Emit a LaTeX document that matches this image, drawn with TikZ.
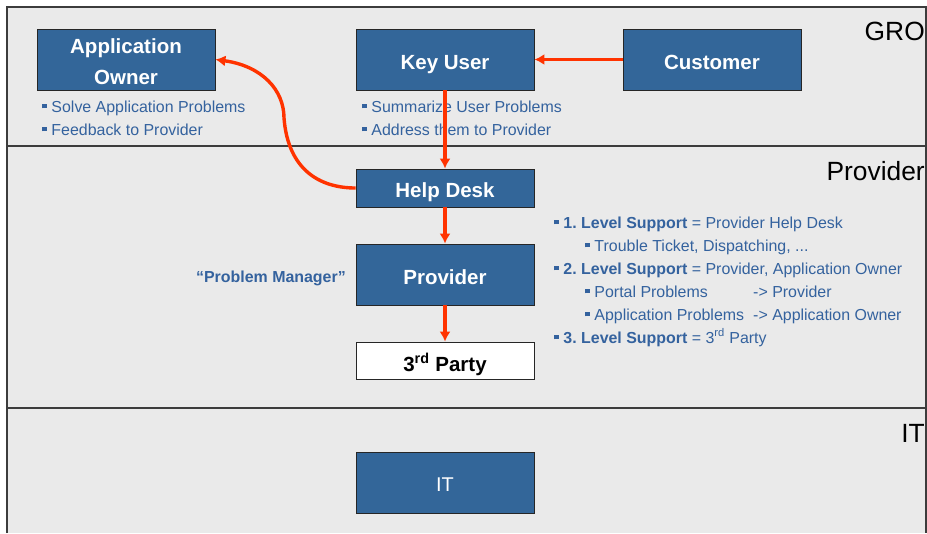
\documentclass[tikz,border=0pt]{standalone}
\usepackage{fontspec}
\setmainfont{Liberation Sans}
\usetikzlibrary{arrows.meta}
\definecolor{boxblue}{RGB}{51,102,153}
\definecolor{txtblue}{RGB}{52,98,158}
\definecolor{flowred}{RGB}{255,51,0}
\definecolor{lanegray}{RGB}{234,234,234}
\definecolor{lanedark}{RGB}{60,60,60}
\newcommand{\sqb}{\rule[0.22em]{0.28em}{0.28em}\hspace{0.3em}}

\begin{document}
\begin{tikzpicture}[x=0.03cm, y=-0.03cm,
	box/.style={draw=black!85, line width=0.8pt, fill=boxblue, text=white, font=\fontsize{17.5}{27}\selectfont\bfseries, minimum width=5.34cm, minimum height=1.83cm, inner sep=0pt, align=center, text height=16.3pt, text depth=0pt},
	flow/.style={draw=flowred, line width=2.9pt, -{Latex[length=8.5pt,width=9.5pt]}},
	note/.style={anchor=base west, inner sep=0pt, text=txtblue, font=\fontsize{13.6}{16}\selectfont},
	lane/.style={anchor=east, inner sep=0pt, font=\fontsize{22.5}{26}\selectfont}]

\useasboundingbox (0,0) rectangle (927,533);

%---------LANES-----------%
\fill[lanegray] (7,7) rectangle (926,533);
\draw[lanedark, line width=1.4pt] (7,533) -- (7,7) -- (926,7) -- (926,533);
\foreach \y in {146,408}{
	\draw[lanedark, line width=1.4pt] (7,\y) -- (926,\y);
};

\node [lane] (gro) at (925,31) {GRO};
\node [lane] (prv) at (925,171) {Provider};
\node [lane] (itl) at (925,433) {IT};

%---------BOXES-----------%
\node [box, text height=43.4pt] (ao) at (126,59.5) {Application\\Owner};
\node [box] (ku) at (445,59.5) {Key User};
\node [box] (cu) at (712,59.5) {Customer};
\node [box, minimum height=1.14cm, text height=15.8pt] (hd) at (445,188) {Help Desk};
\node [box] (pv) at (445,274.5) {Provider};
\node [box, minimum height=1.11cm, fill=white, text=black, text height=18.5pt] (tp) at (445,360.5) {3\textsuperscript{rd} Party};
\node [box, font=\fontsize{17}{20}\selectfont, text height=15.6pt] (it) at (445,482.5) {IT};

%---------NOTES-----------%
\node [note] (ao1) at (42,112) {\sqb Solve Application Problems};
\node [note] (ao2) at (42,135) {\sqb Feedback to Provider};
\node [note] (ku1) at (362,112) {\sqb Summarize User Problems};
\node [note] (ku2) at (362,135) {\sqb Address them to Provider};

\node [note, anchor=base east, font=\fontsize{13.6}{16}\selectfont\bfseries] (pm) at (346,282) {``Problem Manager''};

\node [note] (l1) at (554,228) {\sqb\textbf{1.\ Level Support} = Provider Help Desk};
\node [note] (l1a) at (585,251) {\sqb Trouble Ticket, Dispatching, ...};
\node [note] (l2) at (554,274) {\sqb\textbf{2.\ Level Support} = Provider, Application Owner};
\node [note] (l2a) at (585,297) {\sqb Portal Problems};
\node [note] (l2b) at (585,320) {\sqb Application Problems};
\node [note] (l2c) at (753,297) {-> Provider};
\node [note] (l2d) at (753,320) {-> Application Owner};
\node [note] (l3) at (554,343) {\sqb\textbf{3.\ Level Support} = 3\textsuperscript{rd} Party};

%---------FLOW-----------%
\draw[flow] (cu) -- (ku);
\draw[flow] (ku) -- (hd);
\draw[flow] (hd) -- (pv);
\draw[flow] (pv) -- (tp);
\draw[flow] (hd.west) .. controls (320,188) and (288,170) .. (284,118)
	.. controls (284,90) and (262,66) .. (ao.east);

\end{tikzpicture}
\end{document}
